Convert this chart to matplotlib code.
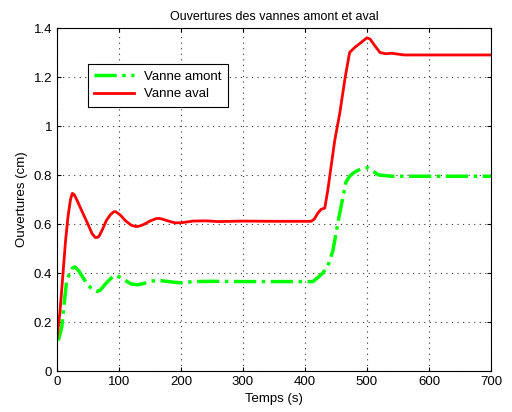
import numpy as np
from matplotlib import pyplot as plt

plt.rcParams['font.family'] = ['Liberation Sans', 'DejaVu Sans']

# vanne aval (red)
t_aval = [0, 5, 10, 14, 18, 22, 25, 28, 32, 40, 50, 57, 62, 65, 68, 73, 80, 87, 92,
          95, 98, 103, 110, 120, 127, 130, 135, 140, 150, 160, 165, 170, 180, 190,
          200, 220, 240, 260, 300, 350, 410, 415, 421, 426, 432, 437, 443, 448,
          456, 465, 472, 480, 490, 500, 505, 512, 521, 530, 540, 560, 600, 700]
aval = [0.13, 0.24, 0.40, 0.53, 0.63, 0.70, 0.725, 0.72, 0.70, 0.655, 0.60, 0.56,
        0.545, 0.545, 0.55, 0.575, 0.615, 0.64, 0.65, 0.65, 0.645, 0.635, 0.615,
        0.595, 0.59, 0.59, 0.593, 0.598, 0.612, 0.622, 0.623, 0.62, 0.612, 0.605,
        0.605, 0.612, 0.613, 0.61, 0.612, 0.611, 0.611, 0.62, 0.645, 0.66, 0.665,
        0.74, 0.85, 0.94, 1.05, 1.20, 1.30, 1.32, 1.34, 1.36, 1.355, 1.33, 1.30,
        1.295, 1.297, 1.29, 1.29, 1.29]

# vanne amont (green)
t_amont = [0, 3, 8, 12, 16, 21, 25, 29, 35, 40, 50, 60, 65, 70, 80, 90, 95, 100,
           110, 120, 130, 140, 150, 160, 170, 190, 200, 220, 250, 300, 413, 420,
           429, 437, 445, 455, 466, 472, 479, 490, 501, 510, 519, 540, 600, 700]
amont = [0.13, 0.13, 0.18, 0.28, 0.37, 0.40, 0.42, 0.425, 0.41, 0.39, 0.35, 0.33,
         0.325, 0.33, 0.36, 0.385, 0.39, 0.385, 0.37, 0.355, 0.352, 0.357, 0.365,
         0.37, 0.368, 0.362, 0.36, 0.365, 0.366, 0.365, 0.365, 0.38, 0.40, 0.43,
         0.49, 0.63, 0.77, 0.795, 0.81, 0.825, 0.83, 0.815, 0.80, 0.795, 0.795, 0.795]

fig = plt.figure(figsize=(5.12, 4.12), dpi=100)
ax = fig.add_axes([0.111, 0.0995, 0.848, 0.8325])

ax.plot(t_amont, amont, color='#00ff00', linestyle='-.', linewidth=2.5, label='Vanne amont')
ax.plot(t_aval, aval, color='#ff0000', linestyle='-', linewidth=2, label='Vanne aval')

ax.set_xlim(0, 700)
ax.set_ylim(0, 1.4)
ax.set_xticks(np.arange(0, 701, 100))
ax.set_yticks(np.arange(0, 1.41, 0.2))
ax.set_yticklabels(['0', '0.2', '0.4', '0.6', '0.8', '1', '1.2', '1.4'])
ax.grid(True, linestyle=(0, (1, 4)), color='#333333', linewidth=0.8)
ax.tick_params(direction='in', top=True, right=True, labelsize=9.5, length=3)

ax.set_title('Ouvertures des vannes amont et aval', fontsize=9)
ax.set_xlabel('Temps (s)', fontsize=9.5)
ax.set_ylabel('Ouvertures (cm)', fontsize=9.5)

leg = ax.legend(loc='upper left', bbox_to_anchor=(0.071, 0.895), fontsize=9.5,
                fancybox=False, edgecolor='black', framealpha=1,
                handlelength=3, borderpad=0.5, labelspacing=0.4, borderaxespad=0)
leg.get_frame().set_linewidth(0.8)

plt.savefig('out.png', dpi=100)
